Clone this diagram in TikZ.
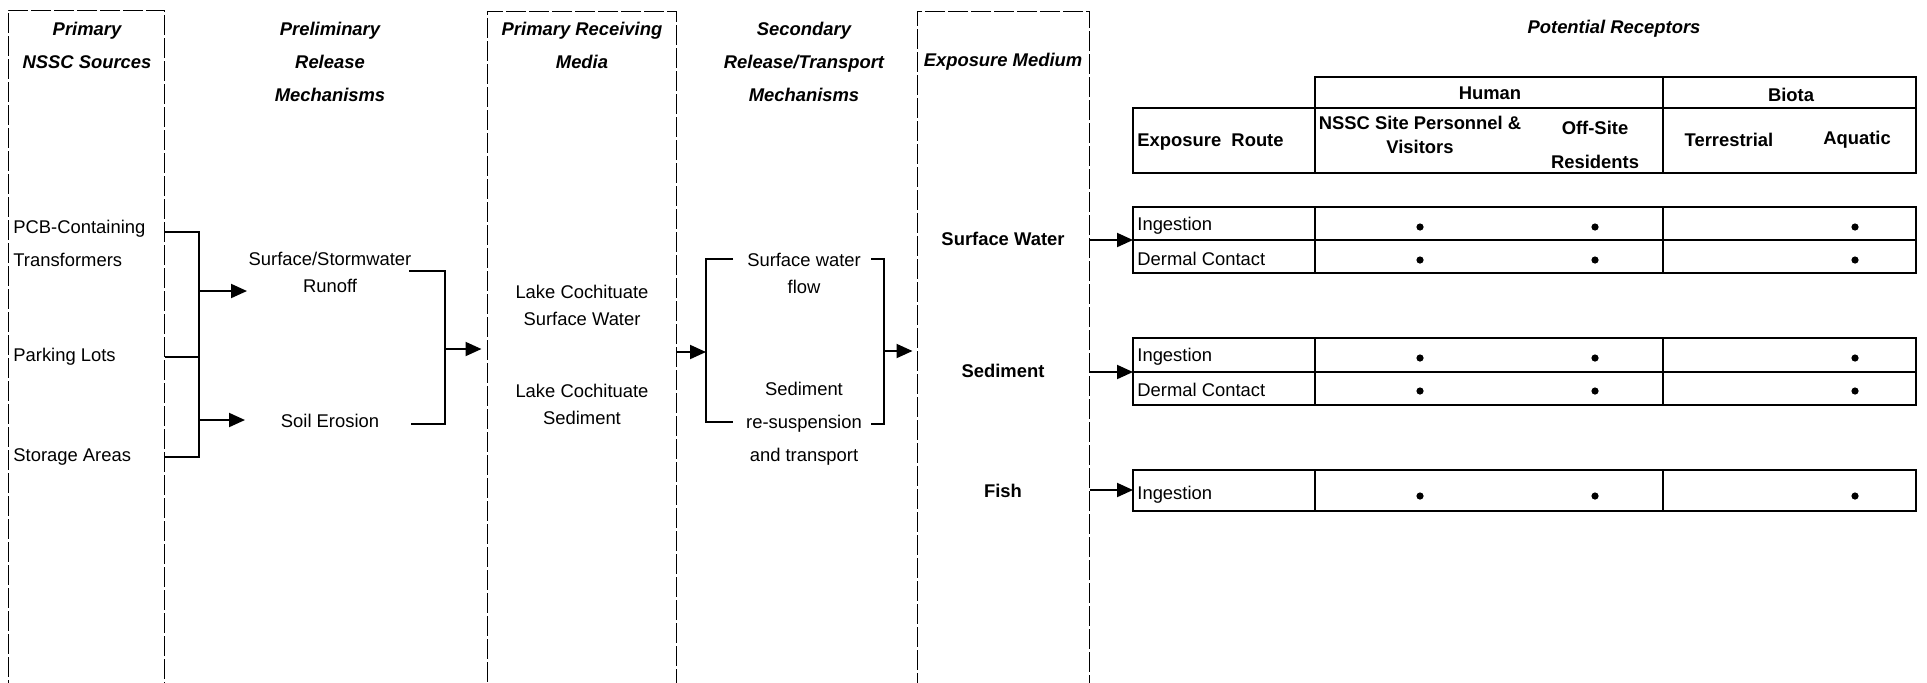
\documentclass[tikz,border=0pt]{standalone}
\usepackage{fontspec}
\setmainfont{Liberation Sans}
\usetikzlibrary{arrows.meta,fit}

\tikzset{
  colbox/.style={draw, line width=0.5pt, dash pattern=on 10pt off 1.5pt, inner sep=0pt},
  colhead/.style={inner sep=0pt, align=center, font=\fontsize{9.2}{16.5}\selectfont\bfseries\itshape},
  txt/.style={inner sep=0pt, align=center, font=\fontsize{9.2}{16.5}\selectfont},
  tight/.style={font=\fontsize{9.2}{13.5}\selectfont},
  medium/.style={inner sep=0pt, font=\fontsize{9.2}{11}\selectfont\bfseries},
  wire/.style={line width=1pt},
  arr/.style={line width=1pt, -{Triangle[length=8pt,width=7pt]}},
  tabline/.style={line width=1.4pt},
  cell/.style={inner sep=0pt, font=\fontsize{9.2}{11}\selectfont},
  hcell/.style={inner sep=0pt, align=center, font=\fontsize{9.2}{11}\selectfont\bfseries},
  hit/.style={circle, fill, inner sep=0pt, minimum size=3.6pt}
}

\begin{document}
\begin{tikzpicture}[x=0.5pt, y=-0.5pt]
\fill[white] (0,0) rectangle (1927,682);
\useasboundingbox (0,0) rectangle (1927,682);

\node (col1) [colbox, fit={(8,10) (164,730)}] {};
\node (col3) [colbox, fit={(487,11) (676,730)}] {};
\node (col5) [colbox, fit={(917,11) (1089,730)}] {};

\node (h1) [colhead] at (87,45) {Primary\\NSSC Sources};
\node (h2) [colhead] at (330,62) {Preliminary\\Release\\Mechanisms};
\node (h3) [colhead] at (582,45) {Primary Receiving\\Media};
\node (h4) [colhead] at (804,62) {Secondary\\Release/Transport\\Mechanisms};
\node (h5) [colhead] at (1003,62) {Exposure Medium};
\node (h6) [colhead] at (1614,29) {Potential Receptors};

\node (pcb) [txt, align=left, anchor=west] at (13,243) {PCB-Containing\\Transformers};
\node (lots) [txt, anchor=west] at (13,357) {Parking Lots};
\node (store) [txt, anchor=west] at (13,457) {Storage Areas};

\node (runoff) [txt, tight] at (330,272) {Surface/Stormwater\\Runoff};
\node (erosion) [txt] at (330,421) {Soil Erosion};

\node (lksw) [txt, tight] at (582,305) {Lake Cochituate\\Surface Water};
\node (lksed) [txt, tight] at (582,404) {Lake Cochituate\\Sediment};

\node (swflow) [txt, tight] at (804,273) {Surface water\\flow};
\node (resus) [txt] at (804,424) {Sediment\\re-suspension\\and transport};

\node (mwater) [medium] at (1003,239) {Surface Water};
\node (msed) [medium] at (1003,371) {Sediment};
\node (mfish) [medium] at (1003,491) {Fish};

% brackets
\coordinate (b1) at (199,232);
\coordinate (b1s) at (199,457);
\coordinate (runin) at (247,291);
\coordinate (erin) at (245,420);
\draw[wire] (col1.east |- b1) -- (b1) -- (b1s) -- (col1.east |- b1s);
\draw[wire] (col1.east |- lots) -- (b1 |- lots);
\draw[arr] (b1 |- runin) -- (runin);
\draw[arr] (b1 |- erin) -- (erin);

\coordinate (r2a) at (409,271);
\coordinate (r2b) at (411,424);
\coordinate (b2s) at (445,424);
\coordinate (mid2) at (445,349);
\draw[wire] (r2a) -| (b2s) -- (r2b);
\draw[arr, shorten >=2.5pt] (mid2) -- (mid2 -| col3.west);

\coordinate (b3) at (706,259);
\coordinate (b3s) at (706,422);
\coordinate (r3a) at (733,259);
\coordinate (r3b) at (733,422);
\coordinate (mid3) at (706,352);
\draw[arr] (mid3 -| col3.east) -- (mid3);
\draw[wire] (r3a) -- (b3) -- (b3s) -- (r3b);

\coordinate (b4) at (884,259);
\coordinate (b4s) at (884,424);
\coordinate (l4a) at (871,259);
\coordinate (l4b) at (871,424);
\coordinate (mid4) at (884,351);
\draw[wire] (l4a) -- (b4) -- (b4s) -- (l4b);
\draw[arr, shorten >=2pt] (mid4) -- (mid4 -| col5.west);

% receptor table
\draw[tabline] (1315,77) rectangle (1916,108);
\draw[tabline] (1133,108) rectangle (1916,173);
\draw[tabline] (1315,108) -- (1315,173);
\draw[tabline] (1663,77) -- (1663,173);
\foreach \top/\bot in {207/273, 338/405, 470/511} {
  \draw[tabline] (1133,\top) rectangle (1916,\bot);
  \draw[tabline] (1315,\top) -- (1315,\bot);
  \draw[tabline] (1663,\top) -- (1663,\bot);
}
\draw[tabline] (1133,240) -- (1916,240);
\draw[tabline] (1133,372) -- (1916,372);

\node (human) [hcell] at (1490,93) {Human};
\node (biota) [hcell] at (1791,95) {Biota};
\node (route) [hcell, anchor=west] at (1137,142) {Exposure\ \ Route};
\node (staff) [hcell, font=\fontsize{9.2}{12}\selectfont\bfseries] at (1420,135) {NSSC Site Personnel \&\\Visitors};
\node (resid) [hcell, font=\fontsize{9.2}{17}\selectfont\bfseries] at (1595,145) {Off-Site\\Residents};
\node (terr) [hcell] at (1729,140) {Terrestrial};
\node (aqua) [hcell] at (1857,140) {Aquatic};

\node (ing1) [cell, anchor=west] at (1137,226) {Ingestion};
\node (derm1) [cell, anchor=west] at (1137,259) {Dermal Contact};
\node (ing2) [cell, anchor=west] at (1137,357) {Ingestion};
\node (derm2) [cell, anchor=west] at (1137,390) {Dermal Contact};
\node (ing3) [cell, anchor=west] at (1137,495) {Ingestion};

\foreach \y in {227,260,358,391,496}
  \foreach \x in {1420,1595,1855}
    \node (d\x\y) [hit] at (\x,\y) {};

\coordinate (g1in) at (1133,240);
\coordinate (g2in) at (1133,372);
\coordinate (g3in) at (1133,490);
\draw[arr] (col5.east |- g1in) -- (g1in);
\draw[arr] (col5.east |- g2in) -- (g2in);
\draw[arr] (col5.east |- g3in) -- (g3in);
\end{tikzpicture}
\end{document}
